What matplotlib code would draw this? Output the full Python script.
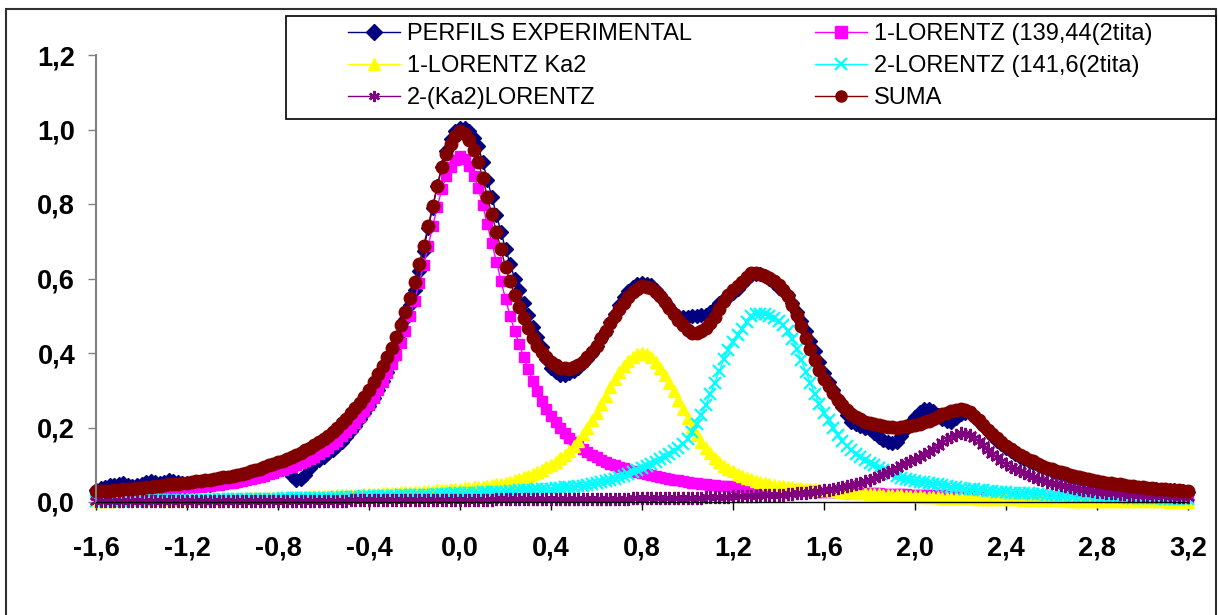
import numpy as np
import matplotlib
matplotlib.use("Agg")
import matplotlib.pyplot as plt
from matplotlib.patches import Rectangle
from matplotlib.font_manager import FontProperties

# 2theta offset grid, step 0.02 (-1.6 .. 3.2)
x_vals = np.linspace(-1.6, 3.2, 241)

exp_vals = [
    .032, .038, .040, .045, .046, .049, .050, .045, .043, .046, .048, .053, .056, .054, .052, .055, .058, .057, .054, .052,
    .050, .049, .047, .045, .045, .046, .049, .053, .056, .060, .063, .066, .070, .075, .079, .084, .088, .092, .095, .097,
    .098, .093, .085, .070, .058, .062, .072, .090, .105, .114, .122, .131, .140, .150, .162, .175, .190, .205, .222, .240,
    .258, .278, .300, .324, .350, .385, .420, .455, .490, .528, .570, .620, .675, .735, .790, .848, .900, .942, .975, .995,
    1.005,
    1.003, .995, .978, .955, .912, .865, .818, .770, .725, .680, .640, .600, .568, .535, .502, .470, .442, .415, .385, .360,
    .348, .340, .341, .345, .351, .360, .372, .385, .401, .420, .440, .460, .483, .505, .528, .550, .566, .578, .585, .588,
    .586, .582, .570, .555, .538, .520, .508, .500, .497, .497, .499, .500, .501, .503, .511, .520, .533, .545, .551, .560,
    .572, .585, .598, .610, .612, .612, .606, .598, .588, .575, .566, .555, .535, .510, .486, .460, .433, .405, .375, .345,
    .322, .300, .277, .255, .233, .215, .209, .205, .200, .195, .186, .175, .166, .160, .158, .162, .176, .195, .212, .228,
    .241, .250, .249, .245, .234, .222, .217, .215, .225, .235, .238, .238, .228, .215, .203, .190, .177, .165, .155, .145,
    .136, .128, .121, .115, .110, .105, .099, .093, .088, .083, .079, .076, .072, .068, .065, .062, .060, .058, .055, .053,
    .051, .049, .047, .046, .044, .043, .041, .040, .038, .037, .036, .035, .034, .033, .032, .031, .031, .030, .029, .028]

lor1_vals = [
    .020, .020, .021, .021, .022, .023, .024, .024, .025, .026, .027, .028, .029, .030, .031, .032, .033, .034, .035, .036,
    .037, .038, .040, .041, .042, .043, .045, .046, .048, .050, .052, .054, .056, .058, .061, .064, .067, .070, .074, .078,
    .082, .086, .090, .094, .099, .104, .110, .116, .122, .129, .137, .146, .155, .165, .176, .188, .200, .213, .228, .243,
    .260, .279, .300, .322, .345, .370, .395, .426, .460, .498, .540, .587, .635, .687, .740, .792, .840, .875, .900, .918,
    .930,
    .922, .903, .876, .843, .797, .745, .695, .645, .594, .545, .500, .460, .424, .390, .357, .325, .297, .272, .251, .232,
    .214, .198, .184, .172, .161, .151, .142, .134, .127, .120, .114, .108, .103, .098, .094, .090, .086, .083, .080, .077,
    .074, .072, .069, .067, .064, .062, .060, .058, .056, .054, .052, .051, .049, .048, .046, .045, .044, .043, .042, .041,
    .040, .039, .038, .037, .036, .036, .035, .034, .033, .033, .032, .032, .031, .031, .030, .030, .029, .029, .028, .028,
    .027, .027, .026, .026, .025, .025, .024, .024, .024, .024, .023, .023, .022, .022, .021, .021, .021, .021, .020, .020,
    .019, .019, .019, .019, .018, .018, .017, .017, .017, .017, .016, .016, .016, .016, .015, .015, .015, .015, .014, .014,
    .014, .014, .013, .013, .013, .013, .012, .012, .012, .012, .012, .012, .011, .011, .011, .011, .011, .011, .010, .010,
    .010, .010, .010, .010, .009, .009, .009, .009, .009, .009, .008, .008, .008, .008, .008, .008, .008, .008, .007, .007]

lor1_ka2_vals = [
    .004, .004, .004, .004, .004, .005, .005, .005, .005, .005, .005, .005, .005, .006, .006, .006, .006, .006, .006, .007,
    .007, .007, .007, .007, .007, .008, .008, .008, .008, .009, .009, .009, .009, .010, .010, .010, .010, .011, .011, .012,
    .012, .012, .012, .013, .013, .014, .014, .015, .015, .016, .016, .017, .017, .018, .018, .019, .019, .020, .020, .021,
    .021, .022, .022, .023, .023, .024, .025, .026, .026, .027, .027, .028, .029, .030, .030, .031, .032, .033, .034, .035,
    .036, .037, .038, .039, .040, .041, .043, .045, .047, .049, .052, .055, .058, .062, .066, .071, .076, .081, .087, .093,
    .100, .108, .117, .127, .138, .151, .165, .182, .200, .220, .240, .262, .285, .308, .330, .349, .365, .379, .390, .397,
    .400,
    .397, .390, .377, .360, .341, .320, .298, .275, .250, .225, .202, .180, .162, .145, .131, .118, .107, .097, .089, .082,
    .076, .070, .065, .061, .057, .054, .051, .048, .046, .044, .042, .041, .039, .038, .037, .036, .035, .034, .033, .032,
    .031, .030, .029, .028, .027, .026, .025, .024, .023, .022, .022, .021, .020, .019, .019, .018, .018, .017, .016, .015,
    .015, .014, .014, .013, .013, .012, .012, .011, .011, .010, .010, .010, .010, .009, .009, .008, .008, .008, .008, .007,
    .007, .007, .007, .006, .006, .006, .006, .005, .005, .005, .005, .005, .005, .004, .004, .004, .004, .004, .004, .003,
    .003, .003, .003, .003, .003, .003, .003, .002, .002, .002, .002, .002, .002, .002, .002, .001, .001, .001, .001, .001]

lor2_vals = [
    .003, .003, .003, .003, .003, .004, .004, .004, .004, .004, .004, .004, .004, .005, .005, .005, .005, .005, .005, .005,
    .005, .006, .006, .006, .006, .006, .006, .007, .007, .007, .007, .007, .007, .008, .008, .008, .008, .008, .008, .009,
    .009, .010, .010, .010, .010, .011, .011, .011, .011, .012, .012, .012, .012, .013, .013, .014, .014, .014, .014, .015,
    .015, .016, .016, .016, .016, .017, .017, .018, .018, .019, .019, .019, .019, .020, .020, .021, .021, .022, .022, .023,
    .023, .024, .024, .025, .025, .026, .026, .027, .027, .028, .028, .029, .030, .031, .031, .032, .033, .034, .035, .036,
    .036, .037, .038, .039, .040, .041, .043, .044, .046, .048, .051, .054, .057, .060, .063, .066, .070, .075, .081, .086,
    .092, .097, .102, .108, .115, .121, .128, .136, .145, .156, .170, .188, .210, .234, .260, .289, .320, .352, .385, .409,
    .430, .448, .465, .484, .500, .504, .505,
    .504, .500, .494, .485, .474, .460, .437, .410, .381, .350, .320, .290, .264, .240,
    .219, .200, .181, .165, .151, .140, .130, .122, .114, .106, .099, .092, .086, .080, .074, .069, .065, .062, .059, .056,
    .054, .053, .051, .049, .047, .045, .043, .041, .039, .038, .036, .035, .034, .033, .031, .030, .029, .028, .027, .026,
    .025, .025, .024, .024, .023, .022, .021, .021, .020, .020, .019, .019, .018, .018, .017, .017, .016, .016, .015, .015,
    .014, .014, .013, .013, .013, .013, .012, .012, .011, .011, .010, .010, .010, .010, .009, .009, .009, .009, .008, .008]

lor2_ka2_vals = [
    .002, .002, .002, .002, .002, .002, .002, .002, .002, .002, .002, .002, .002, .002, .002, .002, .003, .003, .003, .003,
    .003, .003, .003, .003, .003, .003, .003, .003, .003, .003, .003, .003, .003, .003, .003, .003, .004, .004, .004, .004,
    .004, .004, .004, .004, .004, .004, .004, .004, .004, .004, .004, .004, .004, .004, .004, .004, .005, .005, .005, .005,
    .005, .005, .005, .005, .005, .005, .005, .005, .005, .005, .005, .005, .005, .005, .005, .005, .005, .005, .005, .005,
    .006, .006, .006, .006, .006, .006, .006, .006, .007, .007, .007, .007, .007, .007, .007, .007, .007, .007, .008, .008,
    .008, .008, .008, .008, .008, .008, .008, .008, .009, .009, .009, .009, .009, .009, .009, .009, .009, .009, .010, .010,
    .010,
    .010, .010, .010, .010, .010, .011, .011, .011, .011, .012, .012, .012, .012, .013, .013, .014, .014, .014, .014, .015,
    .015, .016, .016, .017, .017, .018, .018, .019, .019, .020, .020, .021, .022, .023, .024, .025, .026, .028, .029, .031,
    .033, .036, .038, .041, .043, .046, .049, .052, .056, .060, .065, .070, .075, .081, .086, .092, .098, .104, .110, .116,
    .122, .128, .135, .142, .151, .160, .168, .175, .180, .184, .183, .180, .173, .163, .152, .140, .130, .120, .111, .103,
    .095, .088, .082, .077, .072, .068, .063, .059, .055, .051, .048, .045, .042, .040, .037, .035, .033, .031, .029, .028,
    .026, .025, .024, .023, .022, .021, .020, .019, .018, .018, .017, .017, .016, .016, .015, .015, .014, .014, .013, .013]

suma_vals = [
    .029, .029, .030, .030, .031, .033, .035, .035, .036, .037, .038, .039, .040, .042, .044, .045, .047, .048, .049, .050,
    .052, .054, .056, .057, .058, .060, .062, .064, .066, .068, .071, .073, .075, .078, .082, .085, .089, .093, .098, .102,
    .107, .111, .116, .121, .126, .132, .139, .145, .152, .160, .169, .178, .188, .199, .211, .224, .238, .252, .267, .283,
    .301, .321, .343, .365, .389, .414, .442, .474, .509, .548, .591, .638, .688, .740, .795, .848, .898, .934, .961, .982,
    .995,
    .989, .971, .946, .914, .870, .820, .772, .726, .678, .632, .592, .555, .523, .494, .467, .441, .420, .402, .388, .376,
    .368, .361, .359, .358, .362, .367, .377, .389, .404, .420, .439, .459, .480, .500, .518, .534, .550, .564, .573, .579,
    .578, .574, .565, .552, .537, .521, .505, .489, .474, .461, .455, .453, .458, .466, .480, .497, .518, .539, .555, .568,
    .580, .590, .604, .615, .615, .613, .608, .601, .592, .582, .569, .554, .530, .502, .472, .441, .411, .381, .355, .331,
    .311, .293, .275, .260, .248, .237, .229, .222, .216, .212, .209, .206, .204, .202, .201, .200, .202, .204, .205, .207,
    .210, .214, .218, .223, .229, .235, .240, .244, .247, .249, .246, .241, .232, .221, .207, .193, .182, .171, .160, .150,
    .142, .134, .127, .120, .114, .109, .103, .097, .092, .088, .084, .081, .077, .073, .070, .067, .064, .062, .059, .056,
    .054, .052, .050, .049, .047, .046, .044, .042, .041, .040, .038, .037, .036, .036, .034, .033, .032, .032, .030, .029]

x_ticks = [-1.6, -1.2, -0.8, -0.4, 0.0, 0.4, 0.8, 1.2, 1.6, 2.0, 2.4, 2.8, 3.2]
x_labels = ["-1,6", "-1,2", "-0,8", "-0,4", "0,0", "0,4", "0,8", "1,2", "1,6",
            "2,0", "2,4", "2,8", "3,2"]
y_ticks = [0.0, 0.2, 0.4, 0.6, 0.8, 1.0, 1.2]
y_labels = ["0,0", "0,2", "0,4", "0,6", "0,8", "1,0", "1,2"]

series = [
    ("PERFILS EXPERIMENTAL", exp_vals, "#000080", "D", 7.5, 1.0),
    ("1-LORENTZ (139,44(2tita)", lor1_vals, "#FF00FF", "s", 7, 1.0),
    ("1-LORENTZ Ka2", lor1_ka2_vals, "#FFFF00", "^", 8.5, 1.0),
    ("2-LORENTZ (141,6(2tita)", lor2_vals, "#00FFFF", "x", 8.5, 1.6),
    ("2-(Ka2)LORENTZ", lor2_ka2_vals, "#800080", (6, 2, 0), 9.5, 1.6),
    ("SUMA", suma_vals, "#800000", "o", 9, 1.0),
]

W, H = 1219, 615
fig = plt.figure(figsize=(W / 100, H / 100), dpi=100)
ax = fig.add_axes([96 / W, 1 - 502 / H, (1188 - 96) / W, (502 - 55) / H])

handles = {}
for name, vals, col, mk, ms, mew in series:
    ln, = ax.plot(x_vals, vals, color=col, lw=1.0, marker=mk, markersize=ms,
                  markeredgewidth=mew, markeredgecolor=col, markerfacecolor=col,
                  clip_on=False)
    handles[name] = ln

ax.set_xlim(-1.6, 3.2)
ax.set_ylim(0, 1.2)

tick_font = FontProperties(family="Liberation Sans", weight="bold", size=19.5)
ax.set_xticks(x_ticks)
ax.set_xticklabels(x_labels, fontproperties=tick_font)
ax.set_yticks(y_ticks)
ax.set_yticklabels(y_labels, fontproperties=tick_font)
ax.tick_params(axis="x", direction="out", length=6, width=1, pad=18, colors="black")
ax.tick_params(axis="y", direction="out", length=6, width=1, pad=9, color="#808080",
               labelcolor="black")

for s in ["top", "right"]:
    ax.spines[s].set_visible(False)
ax.spines["left"].set_color("#808080")
ax.spines["left"].set_linewidth(1.5)
ax.spines["bottom"].set_color("black")
ax.spines["bottom"].set_linewidth(1.0)

# outer chart border
fig.add_artist(Rectangle((6 / W, -0.01), (1216 - 6) / W, 1 - 9 / H + 0.01,
                         transform=fig.transFigure, fill=False,
                         edgecolor="#303030", lw=1.5, zorder=1))

# legend box, white, sitting over the top of the plot
fig.add_artist(Rectangle((286 / W, 1 - 119 / H), (1216 - 286) / W, (119 - 16) / H,
                         transform=fig.transFigure, facecolor="white",
                         edgecolor="black", lw=1.2, zorder=4))

order = ["PERFILS EXPERIMENTAL", "1-LORENTZ Ka2", "2-(Ka2)LORENTZ",
         "1-LORENTZ (139,44(2tita)", "2-LORENTZ (141,6(2tita)", "SUMA"]
leg = fig.legend([handles[n] for n in order], order, ncol=2, loc="upper left",
                 bbox_to_anchor=(348 / W, 1 - 23 / H), frameon=False,
                 borderpad=0, borderaxespad=0, handlelength=2.2,
                 handletextpad=0.3, columnspacing=5.2, labelspacing=0.42,
                 prop=FontProperties(family="Liberation Sans", size=17))
leg.set_zorder(5)
for h in leg.legend_handles:
    h.set_markersize(8)

fig.savefig("out.png", dpi=100, facecolor="white")
